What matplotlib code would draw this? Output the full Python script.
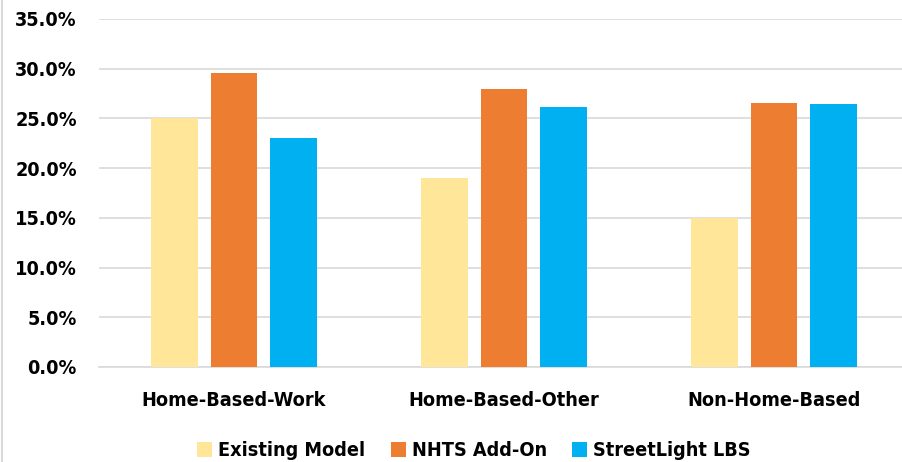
from matplotlib import pyplot as plt
from matplotlib.lines import Line2D
from matplotlib.ticker import FuncFormatter
import numpy as np

categories = ["Home-Based-Work", "Home-Based-Other", "Non-Home-Based"]
series = ["Existing Model", "NHTS Add-On", "StreetLight LBS"]
existing = [25.0, 19.0, 15.0]
nhts = [29.6, 28.0, 26.6]
streetlight = [23.0, 26.1, 26.5]
colors = ["#FFE699", "#ED7D31", "#00B0F0"]

plt.rcParams['font.family'] = ['DejaVu Sans']
plt.rcParams['font.stretch'] = 'condensed'

fig = plt.figure(figsize=(9.02, 4.62), dpi=100)
ax = fig.add_axes([99/902, 1-367/462, 810/902, 348/462])

x = np.arange(len(categories))
width = 0.174
offset = 0.222
for i, (vals, name) in enumerate(zip([existing, nhts, streetlight], series)):
    ax.bar(x + (i-1)*offset, vals, width, color=colors[i], label=name, zorder=3)

ax.set_xlim(-0.5, 2.5)
ax.set_ylim(0, 35)
ax.set_yticks(np.arange(0, 36, 5))
ax.yaxis.set_major_formatter(FuncFormatter(lambda v, p: "%.1f%%" % v))
ax.grid(axis="y", color="#D9D9D9", linewidth=1.2, zorder=0)
for s in ["top", "right", "left"]:
    ax.spines[s].set_visible(False)
ax.spines["bottom"].set_color("#D9D9D9")
ax.spines["bottom"].set_linewidth(1.2)
ax.tick_params(axis="both", length=0, labelsize=14.2)
ax.tick_params(axis="y", pad=16)
ax.tick_params(axis="x", pad=17)
ax.set_xticks(x)
ax.set_xticklabels(categories)
for lab in ax.get_xticklabels() + ax.get_yticklabels():
    lab.set_fontweight("bold")

fig.legend(loc="center", bbox_to_anchor=(474/902, 1-451/462), ncol=3, frameon=False,
           prop={"size": 14.2, "weight": "bold"}, handlelength=0.75, handleheight=0.75,
           handletextpad=0.3, columnspacing=1.3)

# light chart border on the left
fig.add_artist(Line2D([2/902, 2/902], [0, 1], color="#D9D9D9", linewidth=1.5))

fig.savefig("out.png", dpi=100)
